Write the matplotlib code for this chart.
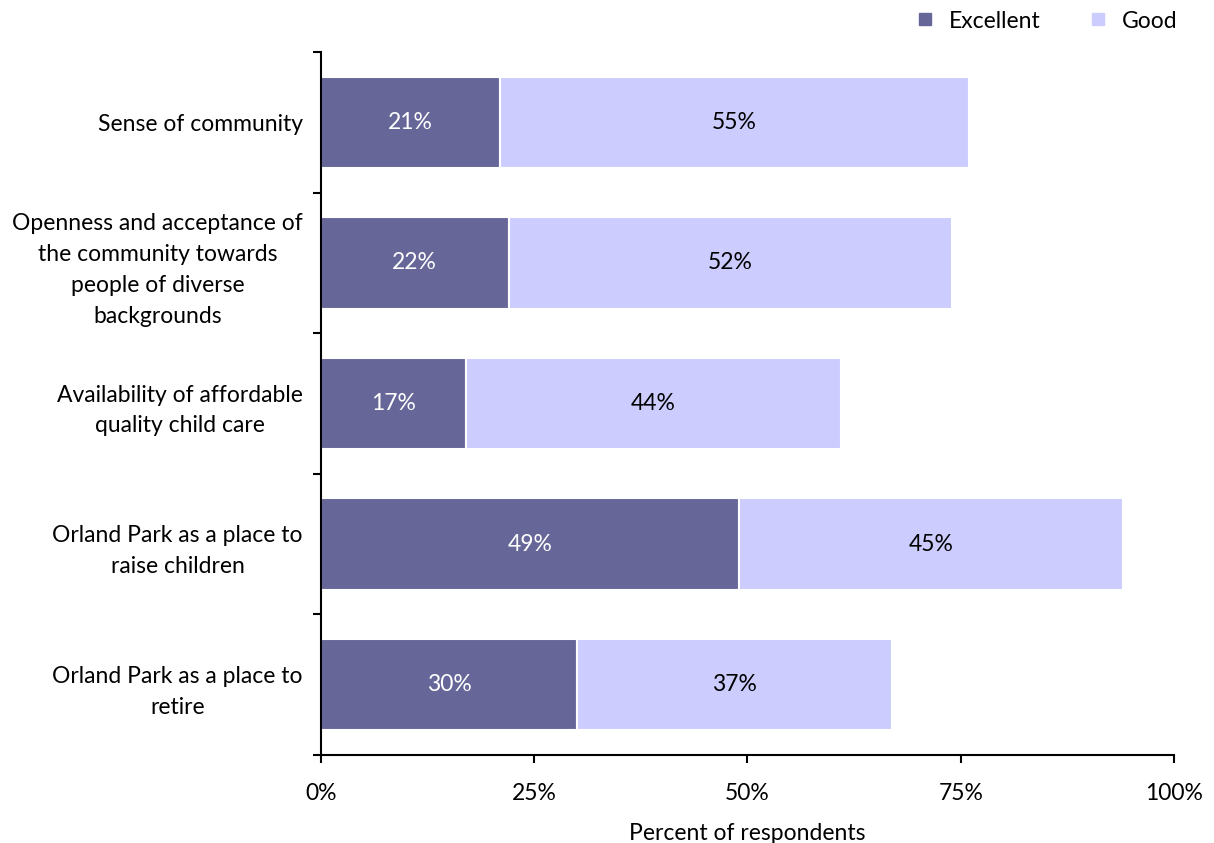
import numpy as np
import matplotlib.pyplot as plt
from matplotlib.lines import Line2D
from matplotlib.ticker import FixedLocator, PercentFormatter

plt.rcParams['font.family'] = ['Lato', 'DejaVu Sans']

# data, top to bottom as in the picture
categories = ["Sense of community",
              "Openness and acceptance of\nthe community towards\npeople of diverse\nbackgrounds",
              "Availability of affordable\nquality child care",
              "Orland Park as a place to\nraise children",
              "Orland Park as a place to\nretire"]
excellent = [21, 22, 17, 49, 30]
good = [55, 52, 44, 45, 37]

c_exc = "#666699"
c_good = "#CCCCFF"
fs = 16.5

fig = plt.figure(figsize=(12.14, 8.43), dpi=100)
ax = fig.add_axes([0.2644, 0.1044, 0.7026, 0.8339])

y = np.arange(len(categories))
ax.barh(y, excellent, height=0.65, color=c_exc, edgecolor="white", linewidth=1.5)
ax.barh(y, good, left=excellent, height=0.65, color=c_good, edgecolor="white", linewidth=1.5)

for i in range(len(categories)):
    ax.text(excellent[i] / 2, y[i], f"{excellent[i]}%", ha="center", va="center",
            color="white", fontsize=fs)
    ax.text(excellent[i] + good[i] / 2, y[i], f"{good[i]}%", ha="center", va="center",
            color="black", fontsize=fs)

ax.set_xlim(0, 100)
ax.set_ylim(len(categories) - 0.5, -0.5)
ax.xaxis.set_major_locator(FixedLocator([0, 25, 50, 75, 100]))
ax.xaxis.set_major_formatter(PercentFormatter(decimals=0))

# category labels centred in slots, ticks at slot boundaries
ax.set_yticks(np.arange(-0.5, len(categories), 1.0))
ax.set_yticklabels([])
ax.set_yticks(y, minor=True)
ax.set_yticklabels(categories, minor=True, fontsize=fs, ha="right",
                   multialignment="center", linespacing=1.58)
ax.tick_params(axis="y", which="minor", length=0, pad=13)
ax.tick_params(axis="y", which="major", length=6, width=1.5, direction="out")
ax.tick_params(axis="x", length=6, width=1.5, direction="out", labelsize=fs, pad=14)

for s in ["top", "right"]:
    ax.spines[s].set_visible(False)
ax.spines["left"].set_linewidth(1.5)
ax.spines["bottom"].set_linewidth(1.5)

ax.set_xlabel("Percent of respondents", fontsize=fs, labelpad=14)

handles = [Line2D([], [], marker="s", linestyle="none", color=c_exc, markersize=9),
           Line2D([], [], marker="s", linestyle="none", color=c_good, markersize=9)]
fig.legend(handles, ["Excellent", "Good"], loc="upper right", bbox_to_anchor=(0.987, 1.012),
           ncol=2, frameon=False, fontsize=fs, handletextpad=0.05, columnspacing=1.5)

fig.savefig("out.png", dpi=100)
